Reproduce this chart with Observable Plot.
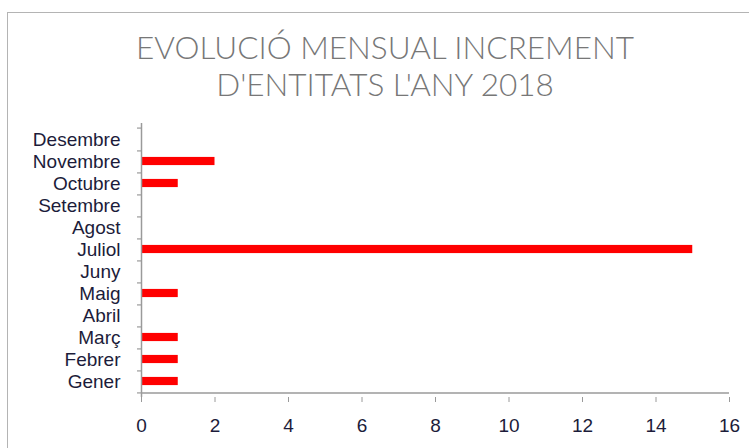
<!DOCTYPE html>
<html>
<head>
<meta charset="utf-8">
<script src="https://cdn.jsdelivr.net/npm/d3@7"></script>
<script src="https://cdn.jsdelivr.net/npm/@observablehq/plot@0.6"></script>
<style>
  html, body { margin: 0; padding: 0; background: #fff; }
  #wrap { position: relative; width: 749px; height: 448px; overflow: hidden; }
  #frame { position: absolute; left: 7px; top: 12px; width: 800px; height: 500px;
           border: 1.5px solid #b4b4b4; box-sizing: border-box; }
  #title { position: absolute; left: 7px; width: 756px; top: 29px; text-align: center;
           font-family: Lato, "Open Sans", sans-serif; font-weight: 300; font-size: 31.5px;
           line-height: 37px; color: #777777; }
  #chart { position: absolute; left: 0; top: 0; }
</style>
</head>
<body>
<div id="wrap">
  <div id="frame"></div>
  <div id="chart"></div>
  <div id="title">EVOLUCIÓ MENSUAL INCREMENT<br>D'ENTITATS L'ANY 2018</div>
</div>
<script>
const months = ["Gener","Febrer","Març","Abril","Maig","Juny","Juliol","Agost","Setembre","Octubre","Novembre","Desembre"];
const values = [1, 1, 1, 0, 1, 0, 15, 0, 0, 1, 2, 0];
const xTicks = [0, 2, 4, 6, 8, 10, 12, 14, 16];

const data = months.map((m, i) => ({month: m, value: values[i]}));

const W = 749, H = 448, mt = 123, mb = 51, ml = 141, mr = 20;
const bw = (H - mt - mb) / months.length;
const kx = (W - ml - mr) / 16;
const tickLen = 4 / kx;
const barH = 9;
const axisColor = "#9a9a9a";
const textColor = "#1c1c3a";

const chart = Plot.plot({
  width: W, height: H,
  marginTop: mt, marginBottom: mb, marginLeft: ml, marginRight: mr,
  style: {background: "transparent", fontFamily: "'Liberation Sans', Arial, sans-serif", fontSize: "19px", overflow: "visible"},
  x: {domain: [0, 16]},
  y: {type: "band", domain: [...months].reverse(), padding: 0},
  marks: [
    Plot.barX(data, {x: "value", y: "month", fill: "#ff0000", insetTop: (bw - barH) / 2, insetBottom: (bw - barH) / 2}),
    Plot.ruleX([0], {stroke: axisColor, strokeWidth: 1.5}),
    Plot.ruleY([months[0]], {y: d => d, x1: 0, x2: 16, dy: bw / 2, stroke: axisColor, strokeWidth: 1.5}),
    Plot.ruleY(months, {y: d => d, x1: -tickLen, x2: 0, dy: bw / 2, stroke: axisColor, strokeWidth: 1.2}),
    Plot.ruleY([months[months.length - 1]], {y: d => d, x1: -tickLen, x2: 0, dy: -bw / 2, stroke: axisColor, strokeWidth: 1.2}),
    Plot.axisY({tickSize: 0, tickPadding: 21, fill: textColor, label: null}),
    Plot.axisX({ticks: xTicks, tickSize: 5, tickPadding: 16, stroke: axisColor, fill: textColor, label: null})
  ]
});
document.getElementById("chart").appendChild(chart);
</script>
</body>
</html>
